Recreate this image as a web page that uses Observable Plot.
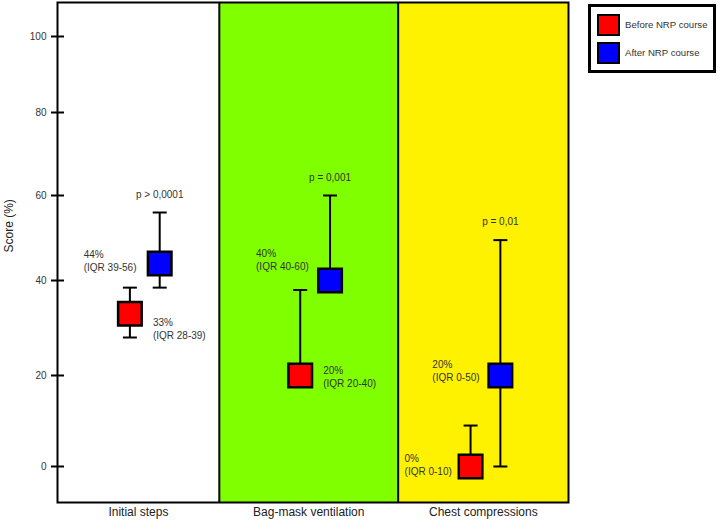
<!DOCTYPE html>
<html><head><meta charset="utf-8">
<script src="https://cdn.jsdelivr.net/npm/d3@7"></script>
<script src="https://cdn.jsdelivr.net/npm/@observablehq/plot@0.6"></script>
<style>
body{margin:0;background:#fff;}
#wrap{position:relative;width:720px;height:525px;}
.legend{position:absolute;left:588px;top:4px;width:128px;height:69px;border:3px solid #000;box-sizing:border-box;background:#fff;font:9.6px "Liberation Sans",Arial,sans-serif;color:#333;}
.sw{position:absolute;left:6px;width:23px;height:22px;border:2px solid #000;box-sizing:border-box;}
.lt{position:absolute;left:34px;line-height:12px;white-space:nowrap;}
</style></head><body><div id="wrap"></div>
<script>
// ---- data ----
const categories = ["Initial steps", "Bag-mask ventilation", "Chest compressions"];
const series = ["Before NRP course", "After NRP course"];
const seriesColors = ["#ff0000", "#0000ff"];
const beforeMedian = [33, 20, 0];
const beforeLow = [28, 20, 0];
const beforeHigh = [38.5, 38, 9];
const afterMedian = [44, 40, 20];
const afterLow = [38.5, 40, 0];
const afterHigh = [56, 60, 49.5];
const beforeLabels = ["33%\n(IQR 28-39)", "20%\n(IQR 20-40)", "0%\n(IQR 0-10)"];
const afterLabels = ["44%\n(IQR 39-56)", "40%\n(IQR 40-60)", "20%\n(IQR 0-50)"];
const pValues = ["p > 0,0001", "p = 0,001", "p = 0,01"];
const yTicks = [0, 20, 40, 60, 80, 100];
const panelColors = ["#ffffff", "#80ff00", "#fff200"];

// ---- layout ----
const panelEdges = [0.5, 1.45, 2.5, 3.5];
const seriesOffset = {"Before NRP course": -0.075, "After NRP course": 0.1};
const yDomain = [-8, 0, 20, 40, 60, 80, 100, 109];
const yRange = [502, 466, 375, 280, 195, 112, 36, 2];
const beforeLabelDx = [23, 23, -66], beforeLabelDy = [15, 1, -2];
const afterLabelDx = [-76, -74, -68], afterLabelDy = [-3, -21, -5];

const rows = [];
categories.forEach((c, i) => {
  rows.push({category: c, i, series: series[0], median: beforeMedian[i], low: beforeLow[i], high: beforeHigh[i], label: beforeLabels[i], dx: beforeLabelDx[i], dy: beforeLabelDy[i]});
  rows.push({category: c, i, series: series[1], median: afterMedian[i], low: afterLow[i], high: afterHigh[i], label: afterLabels[i], dx: afterLabelDx[i], dy: afterLabelDy[i]});
});
const xPos = d => d.i + 1 + seriesOffset[d.series];
const afterRows = rows.filter(d => d.series === series[1]);

const cap = {draw(ctx, size) { const r = Math.sqrt(size / Math.PI); ctx.moveTo(-r, 0); ctx.lineTo(r, 0); }};
const txt = {fontSize: 10, fill: "#333", fontFamily: "Liberation Sans, Arial, sans-serif"};

const chart = Plot.plot({
  width: 720, height: 525,
  marginLeft: 57, marginRight: 152, marginTop: 2, marginBottom: 23,
  style: {fontFamily: "Liberation Sans, Arial, sans-serif", fontSize: "10px", background: "white", color: "#000"},
  x: {type: "linear", domain: [0.5, 3.5], axis: null},
  y: {type: "linear", domain: yDomain, range: yRange},
  color: {domain: series, range: seriesColors},
  marks: [
    ...categories.map((c, i) => Plot.rect([c], {x1: panelEdges[i], x2: panelEdges[i + 1], fill: panelColors[i]})),
    Plot.ruleX(panelEdges.slice(1, -1), {stroke: "black", strokeWidth: 2}),
    Plot.ruleX(rows, {x: xPos, y1: "low", y2: "high", stroke: "black", strokeWidth: 2}),
    Plot.dot(rows, {x: xPos, y: "high", symbol: cap, r: 7, fill: "none", stroke: "black", strokeWidth: 2}),
    Plot.dot(rows, {x: xPos, y: "low", symbol: cap, r: 7, fill: "none", stroke: "black", strokeWidth: 2}),
    Plot.dot(rows, {x: xPos, y: "median", symbol: "square", r: 13.3, fill: "series", stroke: "black", strokeWidth: 2.5}),
    Plot.text(afterRows, {x: xPos, y: "high", text: d => pValues[d.i], dy: -18, ...txt}),
    ...rows.map(d => Plot.text([d], {x: xPos, y: "median", text: "label", textAnchor: "start", lineHeight: 1.3, dx: d.dx, dy: d.dy, ...txt})),
    Plot.axisY({ticks: yTicks, tickSize: 13, dx: 7, fill: "none", label: null, stroke: "black", strokeWidth: 2}),
    Plot.axisY({ticks: yTicks, tickSize: 0, tickPadding: 11, label: null, fontSize: 10, fill: "#333"}),
    Plot.text(["Score (%)"], {frameAnchor: "left", rotate: -90, dx: -48, fontSize: 12, fill: "#222"}),
    Plot.text(categories, {x: (d, i) => (panelEdges[i] + panelEdges[i + 1]) / 2, frameAnchor: "bottom", dy: 13, fontSize: 12, fill: "#222"}),
    Plot.frame({stroke: "black", strokeWidth: 2})
  ]
});

const wrap = document.getElementById("wrap");
wrap.appendChild(chart);
const legend = document.createElement("div");
legend.className = "legend";
series.forEach((s, i) => {
  const sw = document.createElement("div");
  sw.className = "sw";
  sw.style.top = (7 + i * 28) + "px";
  sw.style.background = seriesColors[i];
  legend.appendChild(sw);
  const t = document.createElement("div");
  t.className = "lt";
  t.style.top = (12 + i * 28) + "px";
  t.textContent = s;
  legend.appendChild(t);
});
wrap.appendChild(legend);
</script></body></html>
